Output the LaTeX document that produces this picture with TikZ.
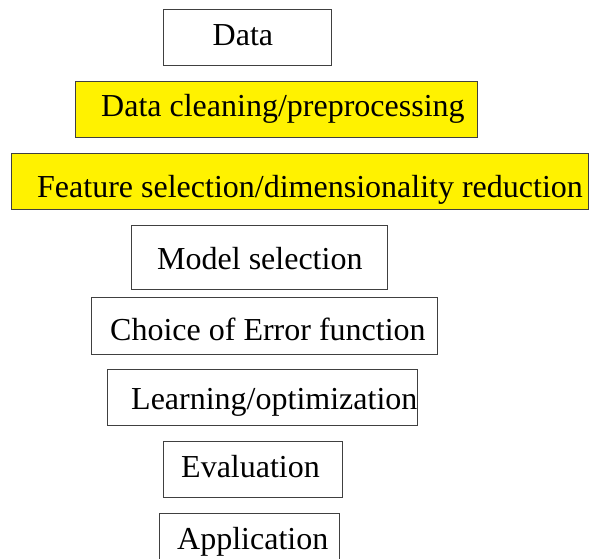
\documentclass[tikz,border=0pt]{standalone}
\usepackage{fontspec}
\setmainfont{Liberation Serif}
\begin{document}
\begin{tikzpicture}[x=1pt, y=-1pt,
  stage/.style={draw=black!75, line width=0.9pt, rectangle, inner sep=0pt},
  hilite/.style={stage, fill=yellow},
  lbl/.style={anchor=base west, inner sep=0pt, font=\fontsize{32}{38}\selectfont}]
  \useasboundingbox (0,0) rectangle (589,558);
  % boxes of the pipeline stages
  \draw[stage]  (163,9.5) rectangle (331,65);
  \draw[hilite] (75,81)   rectangle (477,137);
  \draw[hilite] (11,153)  rectangle (588,209);
  \draw[stage]  (131,225) rectangle (387,289);
  \draw[stage]  (91,297)  rectangle (437,354);
  \draw[stage]  (107,369) rectangle (417,425);
  \draw[stage]  (163,441) rectangle (342,497);
  \draw[stage]  (159,513) rectangle (339,565);
  % stage names
  \node[lbl] (data)  at (212.5,45) {Data};
  \node[lbl] (clean) at (101,116.7) {Data cleaning/preprocessing};
  \node[lbl] (feat)  at (37,197)  {Feature selection/dimensionality reduction};
  \node[lbl] (model) at (157,269) {Model selection};
  \node[lbl] (error) at (110,340.5) {Choice of Error function};
  \node[lbl] (learn) at (131,409) {Learning/optimization};
  \node[lbl] (eval)  at (181,477.3) {Evaluation};
  \node[lbl] (app)   at (177,549) {Application};
\end{tikzpicture}
\end{document}
